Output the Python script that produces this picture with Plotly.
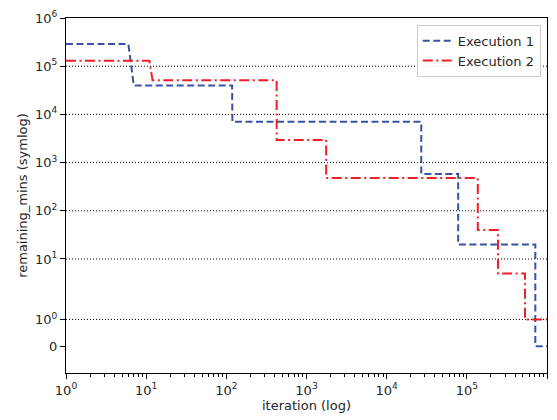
import numpy as np
import plotly.graph_objects as go

# ---- data (change points: iteration where a new value starts, and value) ----
exec1_start = [1, 7, 119, 27000, 78000, 715000]
exec1_vals = [288000, 40000, 7000, 580, 20, 0]
exec2_start = [1, 12, 425, 1760, 137000, 245000, 531000]
exec2_vals = [129600, 51000, 2950, 480, 40, 5, 1]
last_iteration = 1000000

y_tick_values = [0, 1, 10, 100, 1000, 10000, 100000, 1000000]
y_tick_labels = ["0", "10<sup>0</sup>", "10<sup>1</sup>", "10<sup>2</sup>", "10<sup>3</sup>",
                 "10<sup>4</sup>", "10<sup>5</sup>", "10<sup>6</sup>"]
x_tick_values = [1, 10, 100, 1000, 10000, 100000, 1000000]
x_tick_labels = ["10<sup>0</sup>", "10<sup>1</sup>", "10<sup>2</sup>", "10<sup>3</sup>",
                 "10<sup>4</sup>", "10<sup>5</sup>", "10<sup>6</sup>"]

LINTHRESH = 2.0
ADJ = 1.0 / (1.0 - 1.0 / 10.0)


def symlog(v):
    a = np.asarray(v, dtype=float)
    out = np.sign(a) * LINTHRESH * (ADJ + np.log10(np.maximum(np.abs(a), 1e-300) / LINTHRESH))
    inside = np.abs(a) <= LINTHRESH
    out[inside] = a[inside] * ADJ
    return out


def build(starts, vals, end):
    xs, ys = [], []
    for i, (s, v) in enumerate(zip(starts, vals)):
        nxt = starts[i + 1] - 1 if i + 1 < len(starts) else end
        xs += [s, nxt]
        ys += [v, v]
    return xs, ys


x1, y1 = build(exec1_start, exec1_vals, last_iteration)
x2, y2 = build(exec2_start, exec2_vals, last_iteration)

fig = go.Figure()
fig.add_trace(go.Scatter(x=x1, y=symlog(y1), mode="lines", name="Execution 1",
                         line=dict(color="#3853a4", width=2, dash="7px,3.5px")))
fig.add_trace(go.Scatter(x=x2, y=symlog(y2), mode="lines", name="Execution 2",
                         line=dict(color="#f01e28", width=2, dash="10px,3.5px,2px,3.5px")))

# dotted horizontal grid lines (decades only)
for v in y_tick_values[1:-1]:
    yy = float(symlog([v])[0])
    fig.add_shape(type="line", xref="paper", x0=0, x1=1, yref="y", y0=yy, y1=yy,
                  line=dict(color="black", width=1, dash="1px,2px"), layer="below")

minor_x = [m * 10 ** k for k in range(6) for m in range(2, 10)]

font = dict(family="DejaVu Sans", size=13, color="#262626")
fig.update_layout(
    width=557, height=420,
    margin=dict(l=66, r=9, t=15, b=46),
    paper_bgcolor="white", plot_bgcolor="white",
    font=font,
    showlegend=True,
    legend=dict(x=0.987, y=0.981, xanchor="right", yanchor="top",
                bgcolor="rgba(255,255,255,0.9)", bordercolor="#cccccc", borderwidth=1,
                font=dict(family="DejaVu Sans", size=13, color="#262626"),
                tracegroupgap=0, itemwidth=30),
    xaxis=dict(type="log", range=[0, 6], tickvals=x_tick_values, ticktext=x_tick_labels,
               showgrid=False, zeroline=False, showline=True, mirror=True,
               linecolor="black", linewidth=1, ticks="outside", ticklen=5,
               tickcolor="black", tickfont=font,
               minor=dict(tickvals=minor_x, ticks="outside", ticklen=3, tickcolor="black",
                          showgrid=False),
               title=dict(text="iteration (log)", font=font, standoff=4)),
    yaxis=dict(range=[float(symlog([-1])[0]), float(symlog([1e6])[0])],
               tickvals=list(symlog(y_tick_values)), ticktext=y_tick_labels,
               showgrid=False, zeroline=False, showline=True, mirror=True,
               linecolor="black", linewidth=1, ticks="outside", ticklen=5,
               tickcolor="black", tickfont=font,
               title=dict(text="remaining_mins (symlog)", font=font, standoff=4)),
)

fig.write_html("out.html")
